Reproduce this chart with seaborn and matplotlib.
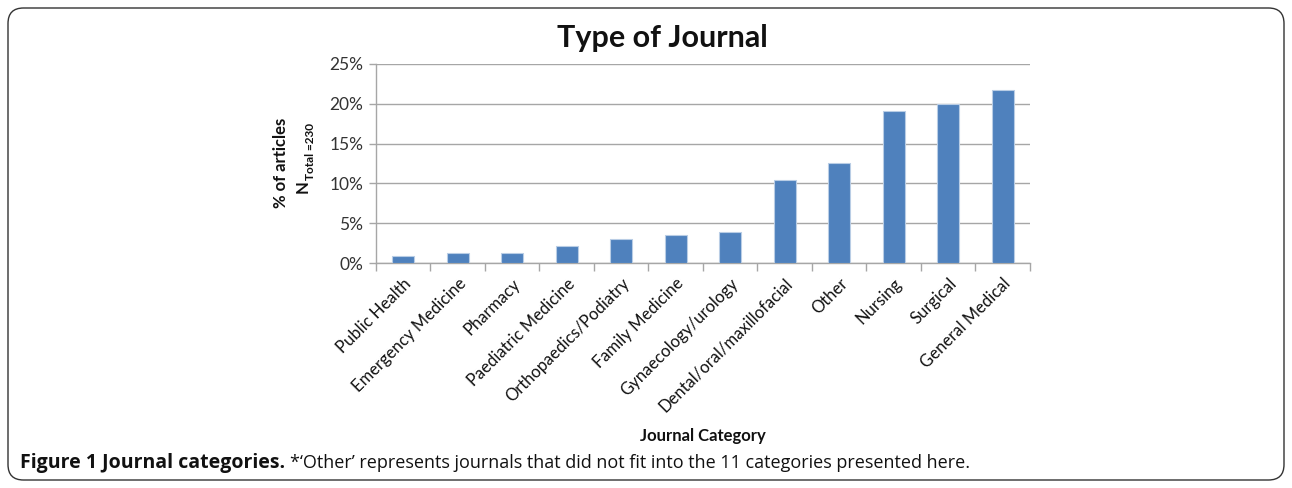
import matplotlib
matplotlib.use("Agg")
import matplotlib.pyplot as plt
from matplotlib.patches import FancyBboxPatch
from matplotlib.ticker import PercentFormatter, FixedLocator
import seaborn as sns
import pandas as pd

categories = ["Public Health", "Emergency Medicine", "Pharmacy", "Paediatric Medicine",
              "Orthopaedics/Podiatry", "Family Medicine", "Gynaecology/urology",
              "Dental/oral/maxillofacial", "Other", "Nursing", "Surgical", "General Medical"]
values = [0.87, 1.30, 1.30, 2.17, 3.04, 3.48, 3.91, 10.43, 12.61, 19.13, 20.00, 21.74]
yticks = [0, 5, 10, 15, 20, 25]

sns.set_theme(style="white")
plt.rcParams['font.family'] = ['Lato', 'DejaVu Sans']

fig = plt.figure(figsize=(12.92, 4.88), dpi=100)
ax = fig.add_axes([376/1292, 1-263/488, (1030-376)/1292, (263-64)/488])

df = pd.DataFrame({"cat": categories, "val": values})
sns.barplot(data=df, x="cat", y="val", color="#4F81BD", saturation=1, width=0.4,
            edgecolor="#B9CDE5", linewidth=0.8, ax=ax, zorder=3)

ax.set_ylim(0, 25)
ax.set_xlim(-0.5, len(categories) - 0.5)
ax.set_yticks(yticks)
ax.yaxis.set_major_formatter(PercentFormatter(decimals=0))
ax.grid(axis="y", color="#A6A6A6", linewidth=1.0, zorder=0)
ax.set_axisbelow(True)
for s in ["top", "right"]:
    ax.spines[s].set_visible(False)
for s in ["left", "bottom"]:
    ax.spines[s].set_color("#A6A6A6")
    ax.spines[s].set_linewidth(1.0)

ax.tick_params(axis="y", labelsize=12.5, colors="#A6A6A6", labelcolor="#333333",
               length=5, width=1, direction="out", left=True, pad=4)
ax.set_xticks(range(len(categories)))
ax.set_xticklabels(categories, rotation=45, ha="right", rotation_mode="anchor",
                   fontsize=12, color="#111111")
ax.tick_params(axis="x", which="major", length=0, pad=9)
ax.xaxis.set_minor_locator(FixedLocator([i - 0.5 for i in range(len(categories) + 1)]))
ax.tick_params(axis="x", which="minor", length=6, width=1, color="#A6A6A6",
               direction="out", bottom=True)
ax.set_xlabel("")
ax.set_ylabel("")

fig.text(662/1292, 1-38/488, "Type of Journal", ha="center", va="center",
         fontsize=22, fontweight="bold", color="#111111")
fig.text(281/1292, 1-163/488, "% of articles", rotation=90, ha="center", va="center",
         fontsize=12, fontweight="bold", color="#111111")
fig.text(303/1292, 1-187/488, "N", rotation=90, ha="center", va="center",
         fontsize=12, fontweight="bold", color="#111111")
fig.text(310/1292, 1-180/488, "Total =230", rotation=90, ha="center", va="bottom",
         fontsize=8.5, fontweight="bold", color="#111111")
fig.text(703/1292, 1-436/488, "Journal Category", ha="center", va="center",
         fontsize=12, fontweight="bold", color="#111111")

cap1 = fig.text(20/1292, 1-463/488, "Figure 1 Journal categories.", ha="left", va="center",
                fontsize=14, fontweight="bold", color="#111111", family="Open Sans")
fig.canvas.draw()
bb = cap1.get_window_extent()
fig.text((bb.x1 + 5)/1292, 1-463/488,
         "*\u2018Other\u2019 represents journals that did not fit into the 11 categories presented here.",
         ha="left", va="center", fontsize=13, color="#111111", family="Open Sans")

box = FancyBboxPatch((8/1292, 8/488), 1276/1292, 472/488,
                     boxstyle="round,pad=0,rounding_size=0.012",
                     transform=fig.transFigure, fill=False, edgecolor="#333333",
                     linewidth=1.0, mutation_aspect=1292/488)
fig.patches.append(box)

fig.savefig("out.png", dpi=100)
